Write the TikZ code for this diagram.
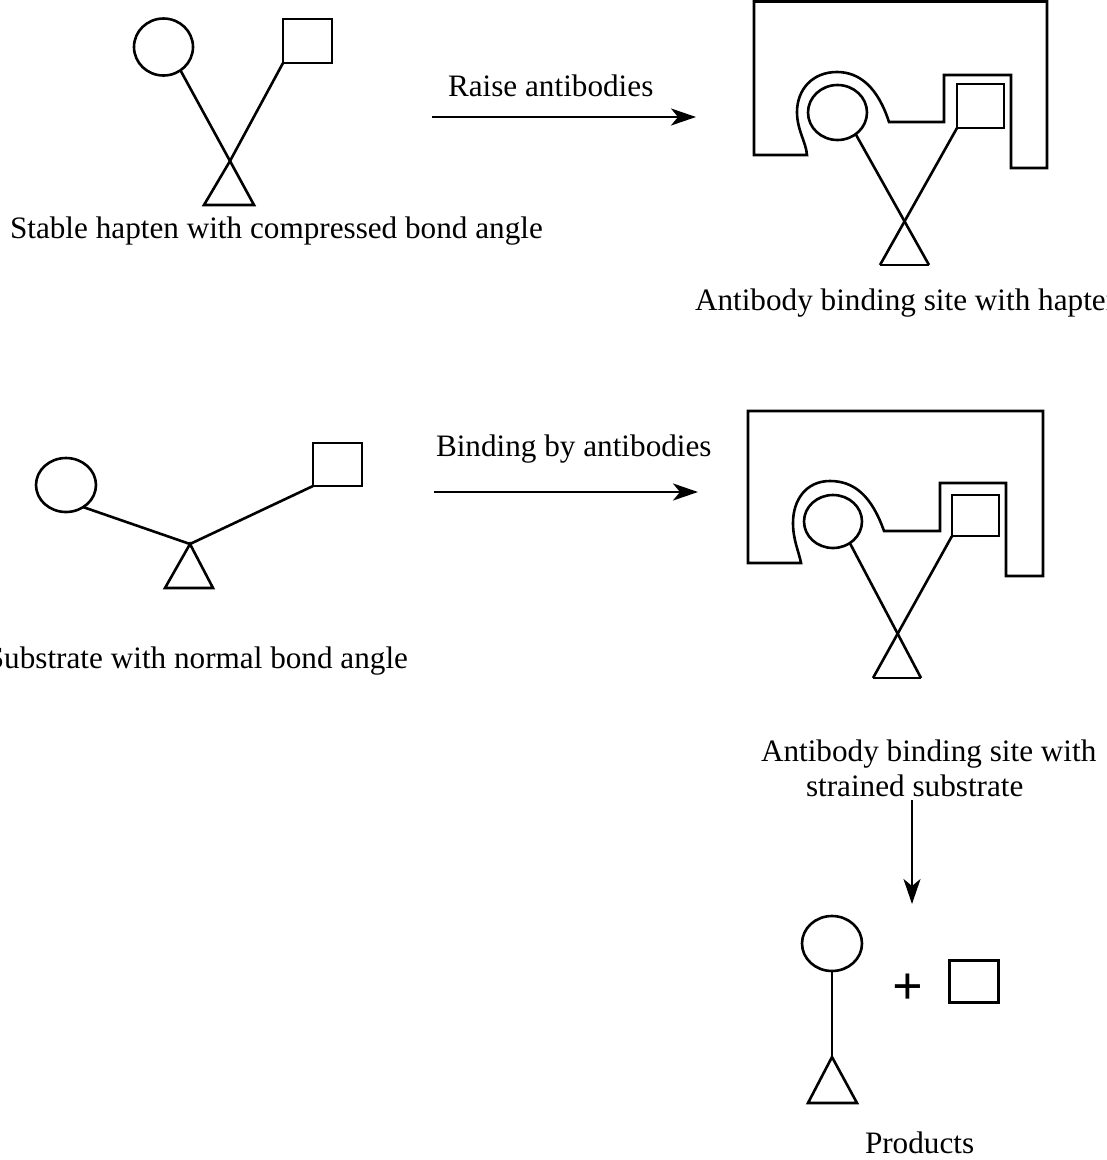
\documentclass[tikz,border=0pt]{standalone}
\usepackage{fontspec}
\setmainfont{Liberation Serif}
\usetikzlibrary{shapes.geometric,arrows.meta}

\tikzset{
  stroke/.style={line width=2.6pt, line join=miter},
  ring/.style={draw, ellipse, inner sep=0pt, outer sep=0pt, line width=2.6pt},
  block/.style={draw, rectangle, inner sep=0pt, outer sep=0pt, line width=2.6pt},
  caption/.style={font=\fontsize{31.2}{36}\selectfont, inner sep=0pt, outer sep=0pt},
  react/.style={line width=2.6pt, -{Stealth[length=25pt,width=17pt,inset=7pt]}},
  site/.style={line width=2.6pt, line join=miter}
}

\begin{document}
\begin{tikzpicture}[x=1pt,y=-1pt]
\useasboundingbox (0,0) rectangle (1107,1160);
\clip (0,0) rectangle (1107,1160);

% ---------- stable hapten (compressed angle) ----------
\node[ring, minimum width=59pt, minimum height=57pt] (hc) at (163.5,47) {};
\node[block, minimum width=49pt, minimum height=44pt] (hs) at (307.5,41) {};
\coordinate (hv) at (230,161);
\coordinate (hl) at (204,205);
\coordinate (hr) at (254,205);
\draw[stroke] (hc.-54) -- (hv);
\draw[stroke] (hs.south west) -- (hv);
\draw[stroke] (hv) -- (hl) -- (hr) -- cycle;
\node[caption, anchor=base west] (hcap) at (10,238) {Stable hapten with compressed bond angle};

% ---------- arrow: raise antibodies ----------
\coordinate (r1a) at (432,117);
\coordinate (r1b) at (696,117);
\draw[react] (r1a) -- (r1b);
\node[caption, anchor=base west] (r1t) at (448,96) {Raise antibodies};

% ---------- antibody site with hapten ----------
\draw[site] (807,155) -- (754,155) -- (754,1.5) -- (1047,1.5) -- (1047,168)
  -- (1011,168) -- (1011,75) -- (944,75) -- (944,122) -- (889,122)
  .. controls (878,88) and (860,72) .. (837,72)
  .. controls (812,72) and (797,90) .. (797,112)
  .. controls (797,130) and (806,142) .. (807,155) -- cycle;
\node[ring, minimum width=59pt, minimum height=55pt] (ac) at (837.5,112.5) {};
\node[block, minimum width=47pt, minimum height=44pt] (as) at (980.5,106) {};
\coordinate (al) at (880,265);
\coordinate (ar) at (929,265);
\draw[stroke] (ac.-50) -- (ar);
\draw[stroke] (as.south west) -- (al);
\draw[stroke] (al) -- (ar);
\node[caption, anchor=base west] (acap) at (695,310) {Antibody binding site with hapten};

% ---------- substrate (normal angle) ----------
\node[ring, minimum width=60pt, minimum height=54pt] (sc) at (66,485) {};
\node[block, minimum width=49pt, minimum height=43pt] (ss) at (337.5,464.5) {};
\coordinate (sv) at (190,544);
\coordinate (sl) at (165,588);
\coordinate (sr) at (213,588);
\draw[stroke] (sc.-52) -- (sv);
\draw[stroke] (ss.south west) -- (sv);
\draw[stroke] (sv) -- (sl) -- (sr) -- cycle;
\node[caption, anchor=base east] (scap) at (408,668) {Substrate with normal bond angle};

% ---------- arrow: binding by antibodies ----------
\coordinate (r2a) at (434,492);
\coordinate (r2b) at (698,492);
\draw[react] (r2a) -- (r2b);
\node[caption, anchor=base west] (r2t) at (436,456) {Binding by antibodies};

% ---------- antibody site with strained substrate ----------
\draw[site] (801,563) -- (748,563) -- (748,411) -- (1043,411) -- (1043,576)
  -- (1006,576) -- (1006,483) -- (940,483) -- (940,531) -- (884,531)
  .. controls (872,497) and (855,481) .. (830,481)
  .. controls (806,481) and (793,500) .. (793,523)
  .. controls (793,540) and (799,552) .. (801,563) -- cycle;
\node[ring, minimum width=58pt, minimum height=53pt] (bc) at (833,521.5) {};
\node[block, minimum width=47pt, minimum height=41pt] (bs) at (975.5,515.5) {};
\coordinate (bl) at (873,678);
\coordinate (br) at (921,678);
\draw[stroke] (bc.-52) -- (br);
\draw[stroke] (bs.south west) -- (bl);
\draw[stroke] (bl) -- (br);
\node[caption, anchor=base west] (bcap1) at (761,761) {Antibody binding site with};
\node[caption, anchor=base west] (bcap2) at (806,796) {strained substrate};

% ---------- arrow: to products ----------
\coordinate (r3a) at (912,800);
\coordinate (r3b) at (912,904);
\draw[react] (r3a) -- (r3b);

% ---------- products ----------
\node[ring, minimum width=60pt, minimum height=55pt] (pc) at (832,943.5) {};
\coordinate (pv) at (832,1057);
\coordinate (pl) at (808,1103);
\coordinate (pr) at (857,1103);
\draw[stroke] (pc.south) -- (pv);
\draw[stroke] (pv) -- (pl) -- (pr) -- cycle;
\node[inner sep=0pt, font=\fontsize{54}{58}\selectfont\bfseries] (plus) at (908,989) {+};
\node[block, minimum width=49pt, minimum height=42pt] (ps) at (974,981.5) {};
\node[caption, anchor=base west] (pcap) at (865,1153) {Products};
\end{tikzpicture}
\end{document}
